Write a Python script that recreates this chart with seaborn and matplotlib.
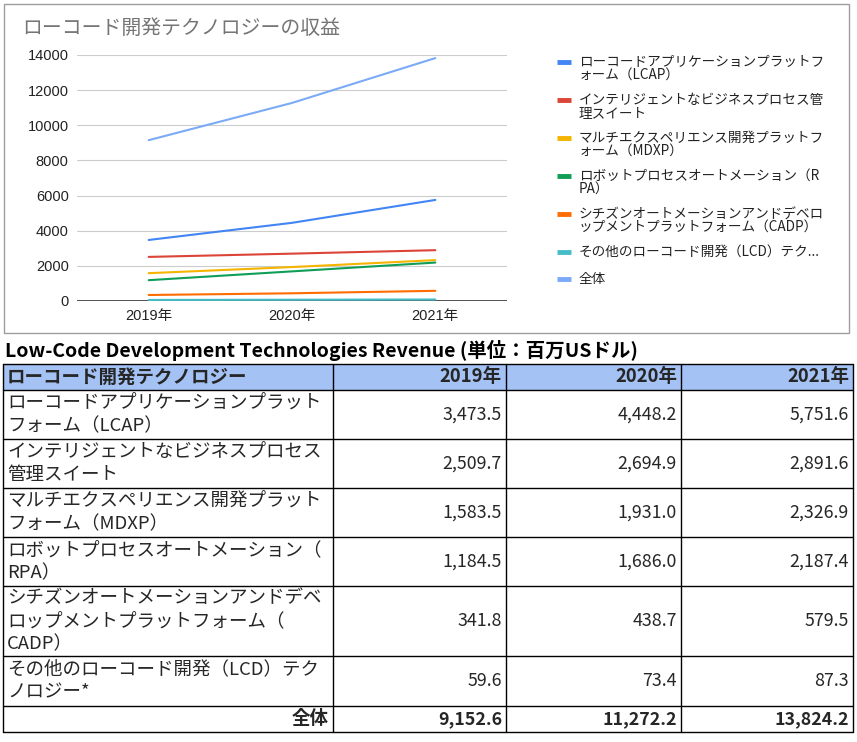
import numpy as np
import pandas as pd
import matplotlib
matplotlib.use('Agg')
import matplotlib.pyplot as plt
import seaborn as sns
from matplotlib.patches import Rectangle

# data
years = ['2019年', '2020年', '2021年']
techs = ['ローコードアプリケーションプラットフォーム（LCAP）',
         'インテリジェントなビジネスプロセス管理スイート',
         'マルチエクスペリエンス開発プラットフォーム（MDXP）',
         'ロボットプロセスオートメーション（RPA）',
         'シチズンオートメーションアンドデベロップメントプラットフォーム（CADP）',
         'その他のローコード開発（LCD）テクノロジー*',
         '全体']
rev_2019 = [3473.5, 2509.7, 1583.5, 1184.5, 341.8, 59.6, 9152.6]
rev_2020 = [4448.2, 2694.9, 1931.0, 1686.0, 438.7, 73.4, 11272.2]
rev_2021 = [5751.6, 2891.6, 2326.9, 2187.4, 579.5, 87.3, 13824.2]

legend_labels = ['ローコードアプリケーションプラットフ\nォーム（LCAP）',
                 'インテリジェントなビジネスプロセス管\n理スイート',
                 'マルチエクスペリエンス開発プラットフ\nォーム（MDXP）',
                 'ロボットプロセスオートメーション（R\nPA）',
                 'シチズンオートメーションアンドデベロ\nップメントプラットフォーム（CADP）',
                 'その他のローコード開発（LCD）テク...',
                 '全体']
table_labels = ['ローコードアプリケーションプラット\nフォーム（LCAP）',
                'インテリジェントなビジネスプロセス\n管理スイート',
                'マルチエクスペリエンス開発プラット\nフォーム（MDXP）',
                'ロボットプロセスオートメーション（\nRPA）',
                'シチズンオートメーションアンドデベ\nロップメントプラットフォーム（\nCADP）',
                'その他のローコード開発（LCD）テク\nノロジー*',
                '全体']
colors = ['#4285F4', '#DB4437', '#F4B400', '#0F9D58', '#FF6D01', '#46BDC6', '#7BAAF7']

df = pd.DataFrame({'tech': techs, years[0]: rev_2019, years[1]: rev_2020, years[2]: rev_2021})
long_df = df.melt(id_vars='tech', var_name='year', value_name='revenue')

sns.set_theme(style='white')
plt.rcParams['font.family'] = ['Noto Sans CJK JP', 'DejaVu Sans']
tick_font = ['Liberation Sans', 'Noto Sans CJK JP']

W, H = 857, 742
fig = plt.figure(figsize=(W / 100, H / 100), dpi=100)

# overlay in pixel coords for frame, legend and table
ov = fig.add_axes([0, 0, 1, 1], zorder=0)
ov.set_xlim(0, W)
ov.set_ylim(H, 0)
ov.axis('off')

ov.add_patch(Rectangle((4, 4), 845, 329, fill=False, ec='#9e9e9e', lw=1))
ov.text(22, 28, 'ローコード開発テクノロジーの収益', fontsize=14.3, color='#757575', va='center')

# line chart
ax = fig.add_axes([77 / W, 1 - 301 / H, 430 / W, 246 / H], zorder=1)
ax.patch.set_alpha(0)
sns.lineplot(data=long_df, x='year', y='revenue', hue='tech', hue_order=techs,
             palette=colors, linewidth=1.5, sort=False, legend=False, ax=ax)
ax.set_xlim(-0.5, 2.5)
ax.set_ylim(0, 14000)
ax.set_yticks(np.arange(0, 14001, 2000))
ax.set_xlabel('')
ax.set_ylabel('')
for s in ax.spines.values():
    s.set_visible(False)
ax.yaxis.grid(True, color='#cccccc', lw=0.8)
ax.xaxis.grid(False)
ax.axhline(0, color='#333333', lw=1.2, zorder=1.5)
ax.tick_params(axis='both', length=0, labelsize=10.5, labelcolor='#222222')
ax.tick_params(axis='y', pad=6)
ax.tick_params(axis='x', pad=6)
for t in ax.get_xticklabels() + ax.get_yticklabels():
    t.set_family(tick_font)

# legend
ly = 62
for lab, c in zip(legend_labels, colors):
    ov.plot([557, 571], [ly, ly], color=c, lw=3.5, solid_capstyle='butt')
    ov.text(579, ly - 7, lab, fontsize=9.8, color='#222222', va='top', linespacing=0.88)
    ly += 11.5 * (lab.count('\n') + 1) + 15

# table
ov.text(5, 350, 'Low-Code Development Technologies Revenue (単位：百万USドル)',
        fontsize=14, fontweight='bold', va='center', color='black')

col_edges = [3, 333, 506, 681, 853]
row_edges = [364, 390, 439, 488, 537, 586, 656, 706, 732]

ov.add_patch(Rectangle((col_edges[0], row_edges[0]), col_edges[-1] - col_edges[0],
                       row_edges[1] - row_edges[0], fc='#A4C2F4', ec='none'))
for x in col_edges:
    ov.plot([x, x], [row_edges[0], row_edges[-1]], color='black', lw=1)
for y in row_edges:
    ov.plot([col_edges[0], col_edges[-1]], [y, y], color='black', lw=1)

fs = 13.3
fs_num = 12.8
yc = (row_edges[0] + row_edges[1]) / 2
ov.text(col_edges[0] + 4, yc, 'ローコード開発テクノロジー', fontsize=fs, fontweight='bold', va='center')
for j, yr in enumerate(years):
    ov.text(col_edges[j + 2] - 4, yc, yr, fontsize=fs, fontweight='bold', va='center', ha='right')

for i, lab in enumerate(table_labels):
    yc = (row_edges[i + 1] + row_edges[i + 2]) / 2
    total = (i == len(table_labels) - 1)
    fw = 'bold' if total else 'normal'
    if total:
        ov.text(col_edges[1] - 4, yc, lab, fontsize=fs, fontweight=fw, va='center', ha='right')
    else:
        ov.text(col_edges[0] + 4, yc, lab, fontsize=fs, va='center', linespacing=1.38)
    for j, vals in enumerate([rev_2019, rev_2020, rev_2021]):
        ov.text(col_edges[j + 2] - 4, yc, f'{vals[i]:,.1f}', fontsize=fs_num, fontweight=fw,
                va='center', ha='right')

fig.savefig('out.png', dpi=100, facecolor='white')
